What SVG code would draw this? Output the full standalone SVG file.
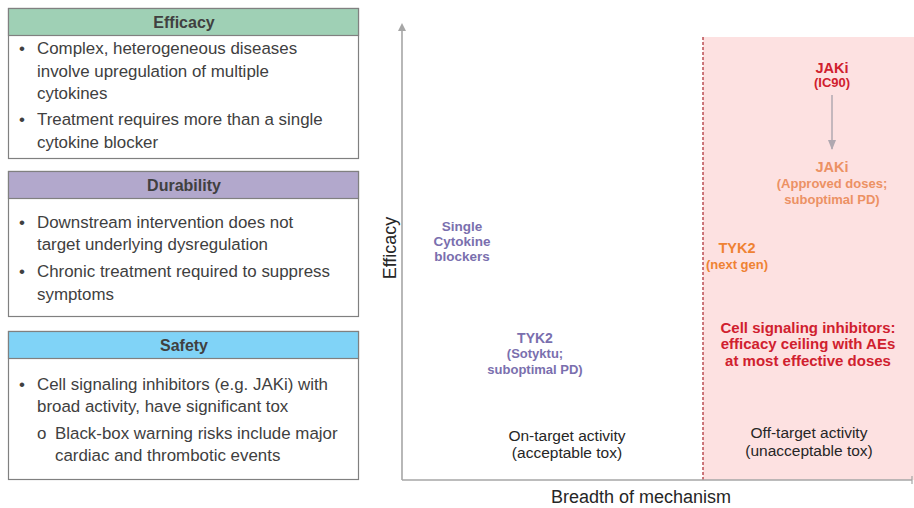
<svg xmlns="http://www.w3.org/2000/svg" width="914" height="508" viewBox="0 0 914 508">
<defs>
<style>
.box{fill:#ffffff;stroke:#808080;stroke-width:1.2}
.hd{stroke:#808080;stroke-width:1.2}
.ht{font-family:"Liberation Sans",Arial,sans-serif;font-size:16px;font-weight:bold;fill:#404040;text-anchor:middle}
.bt{font-family:"Liberation Sans",Arial,sans-serif;font-size:16.9px;fill:#404040}
.ax{stroke:#a6a6a6;stroke-width:1.6;fill:none}
.lab{font-family:"Liberation Sans",Arial,sans-serif;fill:#262626}
.b{font-family:"Liberation Sans",Arial,sans-serif;font-weight:bold;text-anchor:middle}
.pur{fill:#7a6fae}
.org{fill:#ef8233}
.org2{fill:#ec9164}
.red{fill:#d0202e}
.mid{text-anchor:middle}
</style>
<marker id="ah" markerWidth="8" markerHeight="8" refX="4" refY="4" orient="auto" markerUnits="userSpaceOnUse">
<path d="M0,0 L8,4 L0,8 z" fill="#a6a6a6"/>
</marker>
<marker id="ah2" markerWidth="10" markerHeight="8" refX="9" refY="4" orient="auto" markerUnits="userSpaceOnUse">
<path d="M0,0 L10,4 L0,8 z" fill="#b0a8b0"/>
</marker>
</defs>
<rect width="914" height="508" fill="#ffffff"/>

<g id="efficacy-box">
<rect class="box" x="8.5" y="8.5" width="350" height="150"/>
<rect class="hd" x="8.5" y="8.5" width="350" height="27" fill="#9fd0b5"/>
<text class="ht" x="184" y="28">Efficacy</text>
<text class="bt" x="19" y="54">•</text>
<text class="bt" x="37" y="54">Complex, heterogeneous diseases</text>
<text class="bt" x="37" y="77">involve upregulation of multiple</text>
<text class="bt" x="37" y="99">cytokines</text>
<text class="bt" x="19" y="125">•</text>
<text class="bt" x="37" y="125">Treatment requires more than a single</text>
<text class="bt" x="37" y="148">cytokine blocker</text>
</g>

<g id="durability-box">
<rect class="box" x="8.5" y="171.5" width="350" height="145"/>
<rect class="hd" x="8.5" y="171.5" width="350" height="27" fill="#b2a8cc"/>
<text class="ht" x="184" y="191">Durability</text>
<text class="bt" x="19" y="228">•</text>
<text class="bt" x="37" y="228">Downstream intervention does not</text>
<text class="bt" x="37" y="250">target underlying dysregulation</text>
<text class="bt" x="19" y="277">•</text>
<text class="bt" x="37" y="277">Chronic treatment required to suppress</text>
<text class="bt" x="37" y="300">symptoms</text>
</g>

<g id="safety-box">
<rect class="box" x="8.5" y="331.5" width="350" height="148"/>
<rect class="hd" x="8.5" y="331.5" width="350" height="27" fill="#80d3f7"/>
<text class="ht" x="184" y="351">Safety</text>
<text class="bt" x="19" y="390">•</text>
<text class="bt" x="37" y="390">Cell signaling inhibitors (e.g. JAKi) with</text>
<text class="bt" x="37" y="412">broad activity, have significant tox</text>
<text class="bt" x="37" y="439">o</text>
<text class="bt" x="55" y="439">Black-box warning risks include major</text>
<text class="bt" x="55" y="461">cardiac and thrombotic events</text>
</g>

<g id="offtarget-region">
<rect x="703" y="37" width="211" height="443" fill="#fde1e1"/>
<line x1="703" y1="37" x2="703" y2="480" stroke="#b0343a" stroke-width="1.3" stroke-dasharray="3,2"/>
</g>

<g id="connectors">
<line class="ax" x1="402" y1="480" x2="402" y2="27" marker-end="url(#ah)"/>
<line class="ax" x1="402" y1="480" x2="912" y2="480"/>
<line x1="912" y1="476" x2="912" y2="484" stroke="#a6a6a6" stroke-width="1.2"/>
<line x1="832" y1="95" x2="832" y2="149" stroke="#b0a8b0" stroke-width="1.5" marker-end="url(#ah2)"/>
</g>

<g id="axis-labels">
<text class="lab" font-size="18" text-anchor="middle" transform="translate(396,248) rotate(-90)">Efficacy</text>
<text class="lab" font-size="18" x="641" y="503" text-anchor="middle">Breadth of mechanism</text>
</g>

<g id="single-cytokine">
<text class="b pur" font-size="13.5" x="462" y="231">Single</text>
<text class="b pur" font-size="13.5" x="462" y="246">Cytokine</text>
<text class="b pur" font-size="13.5" x="462" y="261">blockers</text>
</g>

<g id="tyk2-sotyktu">
<text class="b pur" font-size="14" x="535" y="343">TYK2</text>
<text class="b pur" font-size="13" x="535" y="358">(Sotyktu;</text>
<text class="b pur" font-size="13" x="535" y="374">suboptimal PD)</text>
</g>

<g id="on-target">
<text class="lab mid" font-size="15.5" x="567" y="441" fill="#404040">On-target activity</text>
<text class="lab mid" font-size="15.5" x="567" y="458" fill="#404040">(acceptable tox)</text>
</g>

<g id="jaki-ic90">
<text class="b red" font-size="14.5" x="832" y="73">JAKi</text>
<text class="b red" font-size="13" x="832" y="87">(IC90)</text>
</g>

<g id="jaki-approved">
<text class="b org2" font-size="14.5" x="832" y="172">JAKi</text>
<text class="b org2" font-size="13" x="832" y="188">(Approved doses;</text>
<text class="b org2" font-size="13" x="832" y="204">suboptimal PD)</text>
</g>

<g id="tyk2-nextgen">
<text class="b org" font-size="14.5" x="737" y="253">TYK2</text>
<text class="b org" font-size="13" x="737" y="269">(next gen)</text>
</g>

<g id="cell-signaling">
<text class="b red" font-size="15" x="808" y="333">Cell signaling inhibitors:</text>
<text class="b red" font-size="15" x="808" y="349">efficacy ceiling with AEs</text>
<text class="b red" font-size="15" x="808" y="366">at most effective doses</text>
</g>

<g id="off-target">
<text class="lab mid" font-size="15.5" x="809" y="438" fill="#595959">Off-target activity</text>
<text class="lab mid" font-size="15.5" x="809" y="456" fill="#595959">(unacceptable tox)</text>
</g>
</svg>
